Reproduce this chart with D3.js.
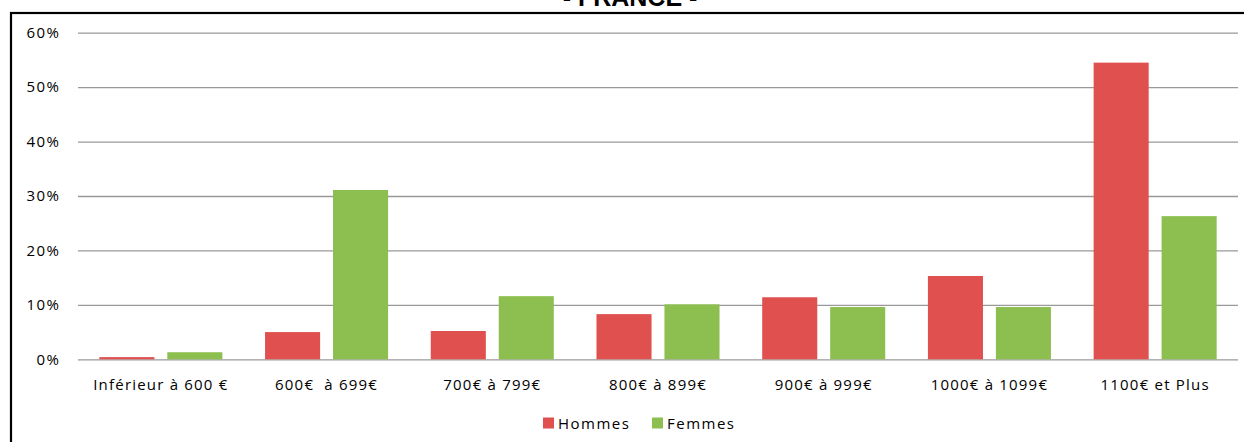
<!DOCTYPE html>
<html>
<head>
<meta charset="utf-8">
<script src="https://cdn.jsdelivr.net/npm/d3@7"></script>
<style>
  body { margin: 0; background: #fff; }
  text { font-family: "Open Sans", "Noto Sans", sans-serif; fill: #000; }
</style>
</head>
<body>
<div id="graphique"></div>
<script>
//----------------------------------------------------------------
//  données
//----------------------------------------------------------------
var categories = ["Inférieur à 600 €", "600€  à 699€", "700€ à 799€", "800€ à 899€",
                  "900€ à 999€", "1000€ à 1099€", "1100€ et Plus"];
var series = ["Hommes", "Femmes"];
var hommes = [0.004, 0.050, 0.052, 0.083, 0.114, 0.153, 0.545];
var femmes = [0.013, 0.311, 0.116, 0.101, 0.096, 0.096, 0.263];
var graduations = [0, 0.1, 0.2, 0.3, 0.4, 0.5, 0.6];
var titre = "- FRANCE -";

var c = ["#DF504E", "#8DBE50"];

//----------------------------------------------------------------
//  création du svg
//----------------------------------------------------------------
largeurSvg = 1244 ; hauteurSvg = 442;
var marges = {haut: 32.7, droite: 6, bas: 82.7, gauche: 78},
    largeur = largeurSvg - marges.gauche - marges.droite,
    hauteur = hauteurSvg - marges.haut - marges.bas;

var svg = d3.select("#graphique")
    .append("svg")
    .attr("width", largeurSvg)
    .attr("height", hauteurSvg);

// cadre noir (coupé à droite et en bas)
svg.append("rect")
    .attr("x", 11).attr("y", 13)
    .attr("width", 1300).attr("height", 500)
    .attr("fill", "none")
    .attr("stroke", "#000")
    .attr("stroke-width", 2.2);

// titre, coupé en haut de l'image comme sur l'original
svg.append("text")
    .attr("x", 630).attr("y", 6)
    .attr("text-anchor", "middle")
    .style("font-family", "'Liberation Sans', Arial, sans-serif")
    .style("font-weight", "bold")
    .style("font-size", "25px")
    .attr("fill", "#222")
    .text(titre);

var s = svg.append("g")
    .attr("transform", "translate(" + marges.gauche + "," + marges.haut + ")");

// échelles
var x0 = d3.scaleBand()
    .domain(categories)
    .range([0, largeur])
    .padding(0);
var x1 = d3.scaleBand()
    .domain(series)
    .range([0, x0.bandwidth()])
    .paddingInner(0.19)
    .paddingOuter(0.314);
var y = d3.scaleLinear()
    .domain([0, 0.6])
    .range([hauteur, 0]);

// grille + axe vertical
var axeY = s.append("g")
    .attr("class", "axis axis--y")
    .call(d3.axisLeft(y)
        .tickValues(graduations)
        .tickSize(-largeur)
        .tickPadding(17.5)
        .tickFormat(d3.format(".0%")));
axeY.select(".domain").remove();
axeY.selectAll(".tick line")
    .attr("stroke", "#999")
    .attr("stroke-width", 1.3);
axeY.selectAll(".tick text")
    .style("font-size", "15px")
    .style("letter-spacing", "1.5px");

//----------------------------------------------------------------
//  barres
//----------------------------------------------------------------
var valeurs = [hommes, femmes];
var groupes = s.selectAll(".groupe")
    .data(categories)
    .enter().append("g")
    .attr("class", "groupe")
    .attr("transform", function(d) { return "translate(" + x0(d) + ",0)"; });

groupes.selectAll("rect")
    .data(function(d, i) {
        return series.map(function(nom, j) { return {nom: nom, v: valeurs[j][i], j: j}; });
    })
    .enter().append("rect")
    .attr("x", function(d) { return x1(d.nom); })
    .attr("width", x1.bandwidth())
    .attr("y", function(d) { return y(d.v); })
    .attr("height", function(d) { return hauteur - y(d.v); })
    .attr("fill", function(d) { return c[d.j]; });

// axe horizontal (étiquettes seulement)
var axeX = s.append("g")
    .attr("class", "axis axis--x")
    .attr("transform", "translate(0," + hauteur + ")")
    .call(d3.axisBottom(x0).tickSize(0).tickPadding(20));
axeX.select(".domain").remove();
axeX.selectAll(".tick text")
    .style("font-size", "15px")
    .style("letter-spacing", "1.2px")
    .style("white-space", "pre");

//----------------------------------------------------------------
//  légende
//----------------------------------------------------------------
var legende = svg.append("g")
    .attr("transform", "translate(543,417.5)");
var items = legende.selectAll(".item")
    .data(series)
    .enter().append("g")
    .attr("class", "item")
    .attr("transform", function(d, i) { return "translate(" + (i * 109) + ",0)"; });
items.append("rect")
    .attr("width", 11).attr("height", 11)
    .attr("fill", function(d, i) { return c[i]; });
items.append("text")
    .attr("x", 15).attr("y", 11)
    .style("font-size", "15px")
    .style("letter-spacing", "1.5px")
    .text(function(d) { return d; });
</script>
</body>
</html>
